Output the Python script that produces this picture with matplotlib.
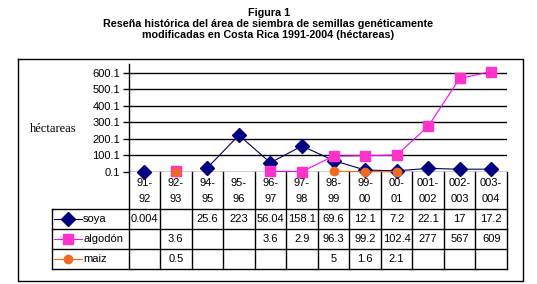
import matplotlib.pyplot as plt
import numpy as np

plt.rcParams['font.family'] = ['Liberation Sans', 'DejaVu Sans']

# datos
categorias = ["91-\n92", "92-\n93", "94-\n95", "95-\n96", "96-\n97", "97-\n98",
              "98-\n99", "99-\n00", "00-\n01", "001-\n002", "002-\n003", "003-\n004"]
soya = [0.004, None, 25.6, 223, 56.04, 158.1, 69.6, 12.1, 7.2, 22.1, 17, 17.2]
algodon = [None, 3.6, None, None, 3.6, 2.9, 96.3, 99.2, 102.4, 277, 567, 609]
maiz = [None, 0.5, None, None, None, None, 5, 1.6, 2.1, None, None, None]
series_nombres = ["soya", "algodón", "maiz"]
yticks = [0.1, 100.1, 200.1, 300.1, 400.1, 500.1, 600.1]

W, H = 537, 284
fig = plt.figure(figsize=(W / 100, H / 100), dpi=100)

# capa en pixeles para marco, titulo y tabla
bg = fig.add_axes([0, 0, 1, 1])
bg.set_xlim(0, W)
bg.set_ylim(H, 0)
bg.axis("off")

tfs = 7.75
bg.text(W / 2, 12.5, "Figura 1", ha="center", va="center", fontsize=tfs, fontweight="bold")
bg.text(W / 2, 24, "Reseña histórica del área de siembra de semillas genéticamente",
        ha="center", va="center", fontsize=tfs, fontweight="bold")
bg.text(W / 2, 35.5, "modificadas en Costa Rica 1991-2004 (héctareas)",
        ha="center", va="center", fontsize=tfs, fontweight="bold")
bg.plot([18, 523, 523, 18, 18], [59, 59, 281, 281, 59], color="black", lw=1)

# area del grafico
x0, x1, ytop, ybot = 128.5, 507, 64, 172
ax = fig.add_axes([x0 / W, 1 - ybot / H, (x1 - x0) / W, (ybot - ytop) / H])
ax.patch.set_alpha(0)
x = np.arange(len(categorias))

def arr(v):
    return np.array([np.nan if a is None else a for a in v], dtype=float)

estilos = [
    dict(color="#000066", marker="D", ms=7, mfc="#000080", mec="#000080"),
    dict(color="#ff00ff", marker="s", ms=6.5, mfc="#ff33cc", mec="#ff33cc"),
    dict(color="#ff6600", marker="o", ms=6, mfc="#f06a22", mec="#f06a22"),
]
for serie, est in zip([soya, algodon, maiz], estilos):
    ax.plot(x, arr(serie), lw=0.8, clip_on=False, zorder=3, **est)

ax.set_xlim(-0.5, len(categorias) - 0.5)
ax.set_ylim(0.1, 654.6)
ax.set_yticks(yticks)
ax.set_yticklabels([f"{t:.1f}" for t in yticks], fontsize=8)
ax.yaxis.grid(True, color="black", lw=1)
ax.set_axisbelow(True)
ax.set_xticks([])
for s in ["top", "right", "bottom"]:
    ax.spines[s].set_visible(False)
ax.spines["left"].set_linewidth(1)
ax.tick_params(axis="y", length=4, width=1, pad=2)
bg.text(53, 129, "héctareas", family="Liberation Serif", fontsize=9, ha="center", va="center")

# tabla de datos
n = len(categorias)
cw = (x1 - x0) / n
filas = [209, 229, 249, 269]
bg.plot([x0, x0], [ybot, filas[-1]], color="black", lw=1)
for i in range(n):
    xr = x0 + (i + 1) * cw
    bg.plot([xr, xr], [ybot, filas[-1]], color="black", lw=1)
    cx = x0 + (i + 0.5) * cw
    a, b = categorias[i].split("\n")
    bg.text(cx, 183, a, ha="center", va="center", fontsize=8)
    bg.text(cx, 199, b, ha="center", va="center", fontsize=8)
for y in filas:
    bg.plot([52, x1], [y, y], color="black", lw=1)
bg.plot([52, 52], [filas[0], filas[-1]], color="black", lw=1)

for r, (serie, nombre, est) in enumerate(zip([soya, algodon, maiz], series_nombres, estilos)):
    yc = (filas[r] + filas[r + 1]) / 2
    bg.plot([54, 68, 82], [yc, yc, yc], lw=0.8, markevery=[1], **est)
    bg.text(83, yc, nombre, ha="left", va="center", fontsize=8)
    for i, v in enumerate(serie):
        if v is None:
            continue
        cx = x0 + (i + 0.5) * cw
        bg.text(cx, yc, f"{v:g}", ha="center", va="center", fontsize=8)

fig.savefig("out.png", dpi=100)
